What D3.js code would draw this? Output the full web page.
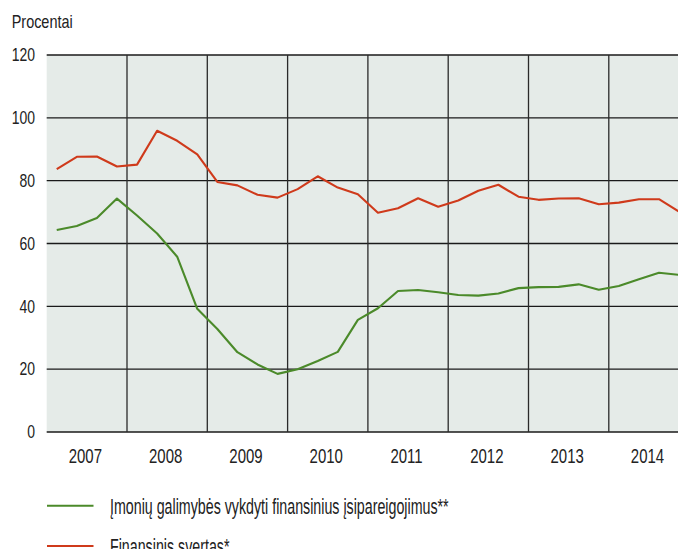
<!DOCTYPE html>
<html>
<head>
<meta charset="utf-8">
<script src="https://cdn.jsdelivr.net/npm/d3@7"></script>
<style>
  html, body { margin: 0; padding: 0; background: #fff; overflow: hidden; }
  text { font-family: "Liberation Sans", Arial, sans-serif; fill: #222; }
</style>
</head>
<body>
<div id="chart"></div>
<script>
// quarterly data, 2007 Q1 .. 2014 Q4
const years = [2007, 2008, 2009, 2010, 2011, 2012, 2013, 2014];
const yTicks = [0, 20, 40, 60, 80, 100, 120];

const svertas = [
  83.7, 87.6, 87.7, 84.5,
  85.1, 95.9, 92.7, 88.4,
  79.6, 78.5, 75.5, 74.6,
  77.3, 81.4, 77.8, 75.7,
  69.8, 71.2, 74.4, 71.7,
  73.7, 76.8, 78.7, 74.9,
  73.9, 74.3, 74.4, 72.5,
  73.0, 74.1, 74.1, 70.1
];

const galimybes = [
  64.3, 65.6, 68.1, 74.3,
  68.9, 63.2, 55.8, 39.2,
  32.8, 25.4, 21.5, 18.5,
  20.0, 22.6, 25.5, 35.7,
  39.4, 44.9, 45.2, 44.5,
  43.6, 43.4, 44.1, 45.8,
  46.1, 46.2, 47.0, 45.3,
  46.5, 48.6, 50.7, 50.0
];

const seriesNames = [
  "Įmonių galimybės vykdyti finansinius įsipareigojimus**",
  "Finansinis svertas*"
];

const width = 678, height = 549;
const margin = {top: 55, left: 46.7, bottom: 432};
const green = "#4b8a2a", red = "#cf3a1b";

const svg = d3.select("#chart").append("svg")
  .attr("width", width)
  .attr("height", height);

let x = d3.scaleLinear()
  .domain([2007, 2015])
  .range([margin.left, 689.1]);

let y = d3.scaleLinear()
  .domain([0, 120])
  .range([margin.bottom, margin.top]);

// condensed look: squeeze text horizontally so a sample string gets the wanted width
function squeeze(sel, sample, targetWidth) {
  let t = svg.append("text").style("font-size", sel.style("font-size")).text(sample);
  let k = targetWidth / t.node().getComputedTextLength();
  t.remove();
  sel.each(function() {
    let n = d3.select(this);
    let px = +n.attr("x"), py = +n.attr("y");
    n.attr("transform", `translate(${px},${py}) scale(${k},1)`).attr("x", 0).attr("y", 0);
  });
}

// plot background
svg.append("rect")
  .attr("x", margin.left)
  .attr("y", margin.top)
  .attr("width", width - margin.left)
  .attr("height", margin.bottom - margin.top)
  .attr("fill", "#e5ebe8");

// horizontal grid
svg.selectAll("line.h")
  .data(yTicks)
  .enter().append("line")
  .attr("class", "h")
  .attr("x1", margin.left)
  .attr("x2", width)
  .attr("y1", d => y(d))
  .attr("y2", d => y(d))
  .attr("stroke", "#1a1a1a")
  .attr("stroke-width", 1.3);

// year separators
svg.selectAll("line.v")
  .data(years.slice(1))
  .enter().append("line")
  .attr("class", "v")
  .attr("x1", d => x(d))
  .attr("x2", d => x(d))
  .attr("y1", y(120))
  .attr("y2", y(0))
  .attr("stroke", "#2a2a2a")
  .attr("stroke-width", 1.3);

// y labels
let yl = svg.selectAll("text.yl")
  .data(yTicks)
  .enter().append("text")
  .attr("class", "yl")
  .attr("x", 35)
  .attr("y", d => y(d) + 6.3)
  .attr("text-anchor", "end")
  .style("font-size", "17.7px")
  .text(d => d);
squeeze(yl, "120", 23.3);

let title = svg.append("text")
  .attr("x", 11.7)
  .attr("y", 28.3)
  .style("font-size", "18.5px")
  .text("Procentai");
squeeze(title, "Procentai", 61);

// year labels
let xl = svg.selectAll("text.xl")
  .data(years)
  .enter().append("text")
  .attr("class", "xl")
  .attr("x", d => x(d + 0.5) - 1.5)
  .attr("y", 463.3)
  .attr("text-anchor", "middle")
  .style("font-size", "20px")
  .text(d => d);
squeeze(xl, "2007", 33.3);

// lines
const qx = i => x(years[0] + (i + 0.5) / 4);
const line = d3.line()
  .x((d, i) => qx(i))
  .y(d => y(d));

svg.append("path")
  .datum(svertas)
  .attr("d", line)
  .attr("fill", "none")
  .attr("stroke", red)
  .attr("stroke-width", 2.1)
  .attr("stroke-linejoin", "round");

svg.append("path")
  .datum(galimybes)
  .attr("d", line)
  .attr("fill", "none")
  .attr("stroke", green)
  .attr("stroke-width", 2.1)
  .attr("stroke-linejoin", "round");

// legend
const legend = [
  {name: seriesNames[0], color: green, y: 505.7},
  {name: seriesNames[1], color: red, y: 546}
];

legend.forEach(l => {
  svg.append("line")
    .attr("x1", 47)
    .attr("x2", 93.5)
    .attr("y1", l.y)
    .attr("y2", l.y)
    .attr("stroke", l.color)
    .attr("stroke-width", 2);
});

let lt = svg.selectAll("text.lg")
  .data(legend)
  .enter().append("text")
  .attr("class", "lg")
  .attr("x", 110)
  .attr("y", d => d.y + 8)
  .style("font-size", "22px")
  .text(d => d.name);
squeeze(lt, seriesNames[0], 339);
</script>
</body>
</html>
